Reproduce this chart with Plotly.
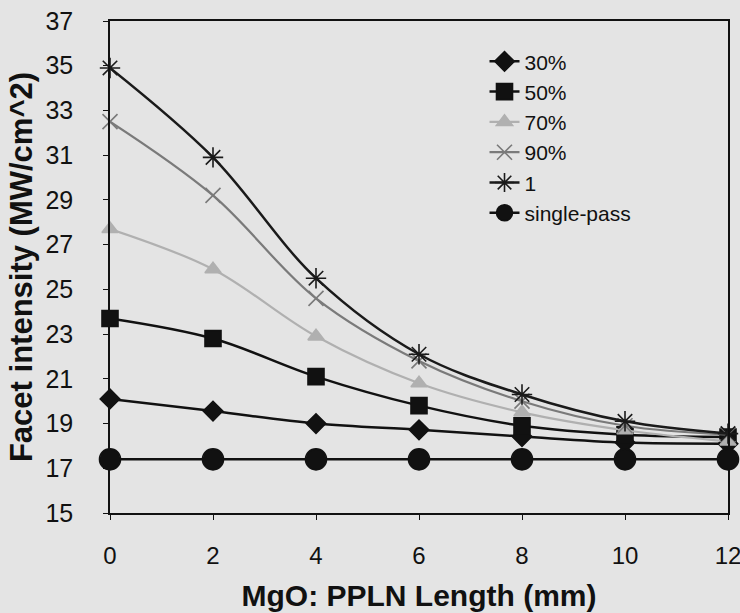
import plotly.graph_objects as go

lengths = [0, 2, 4, 6, 8, 10, 12]
p30 = [20.1, 19.56, 19.0, 18.72, 18.42, 18.15, 18.1]
p50 = [23.7, 22.8, 21.1, 19.8, 18.9, 18.5, 18.4]
p70 = [27.7, 25.9, 22.9, 20.8, 19.5, 18.7, 18.2]
p90 = [32.5, 29.2, 24.6, 21.8, 20.0, 18.9, 18.5]
p100 = [34.9, 30.9, 25.5, 22.1, 20.3, 19.1, 18.55]
single = [17.4, 17.4, 17.4, 17.4, 17.4, 17.4, 17.4]

series = [
    ("30%", p30, "#111111", "diamond", 15, 2.5),
    ("50%", p50, "#111111", "square", 16, 2.5),
    ("70%", p70, "#b0b0b0", "triangle-up", 14, 2.2),
    ("90%", p90, "#7a7a7a", "x-thin-open", 15, 2.2),
    ("1", p100, "#1a1a1a", "asterisk-open", 17, 2.5),
    ("single-pass", single, "#111111", "circle", 21, 2.5),
]

BG = "#e4e4e4"
FONT = "Liberation Sans, Arial, sans-serif"

fig = go.Figure()
for name, ys, col, sym, size, lw in series:
    fig.add_trace(go.Scatter(
        x=lengths, y=ys, name=name, mode="lines+markers",
        line=dict(color=col, width=lw, shape="spline", smoothing=1),
        marker=dict(symbol=sym, size=size, color=col,
                    line=dict(color=col, width=1.6)),
        cliponaxis=False,
    ))

fig.update_layout(
    width=740, height=613,
    margin=dict(l=110, r=12, t=21, b=100),
    paper_bgcolor=BG, plot_bgcolor=BG,
    font=dict(family=FONT, color="#111111", size=22),
    showlegend=True,
    legend=dict(x=0.606, y=0.959, xanchor="left", yanchor="top",
                bgcolor="rgba(0,0,0,0)", font=dict(size=21, family=FONT),
                tracegroupgap=0),
    xaxis=dict(range=[0, 12], tickvals=[0, 2, 4, 6, 8, 10, 12],
               automargin=False, ticklabeloverflow="allow",
               showgrid=False, zeroline=False,
               showline=True, linecolor="#111111", linewidth=1.5, mirror=True,
               ticks="outside", ticklen=5, tickcolor="#111111",
               ticklabelstandoff=15,
               tickfont=dict(size=24),
               title=dict(text="MgO: PPLN Length (mm)", standoff=17,
                          font=dict(size=30, weight="bold"))),
    yaxis=dict(range=[15, 37], tickvals=list(range(15, 38, 2)),
               automargin=False, ticklabeloverflow="allow",
               showgrid=False, zeroline=False,
               showline=True, linecolor="#111111", linewidth=1.5, mirror=True,
               ticks="outside", ticklen=5, tickcolor="#111111",
               ticklabelstandoff=25,
               tickfont=dict(size=25),
               title=dict(text="Facet intensity (MW/cm^2)", standoff=4,
                          font=dict(size=31, weight="bold"))),
    xaxis2=dict(overlaying="x", anchor="y", side="bottom", range=[0, 12],
                tickvals=[0, 2, 4, 6, 8, 10, 12], showticklabels=False,
                automargin=False,
                ticks="inside", ticklen=5, tickcolor="#111111",
                showgrid=False, zeroline=False, showline=False),
    yaxis2=dict(overlaying="y", anchor="x", side="left", range=[15, 37],
                tickvals=list(range(15, 38, 2)), showticklabels=False,
                automargin=False,
                ticks="inside", ticklen=5, tickcolor="#111111",
                showgrid=False, zeroline=False, showline=False),
)

fig.write_html("out.html")
